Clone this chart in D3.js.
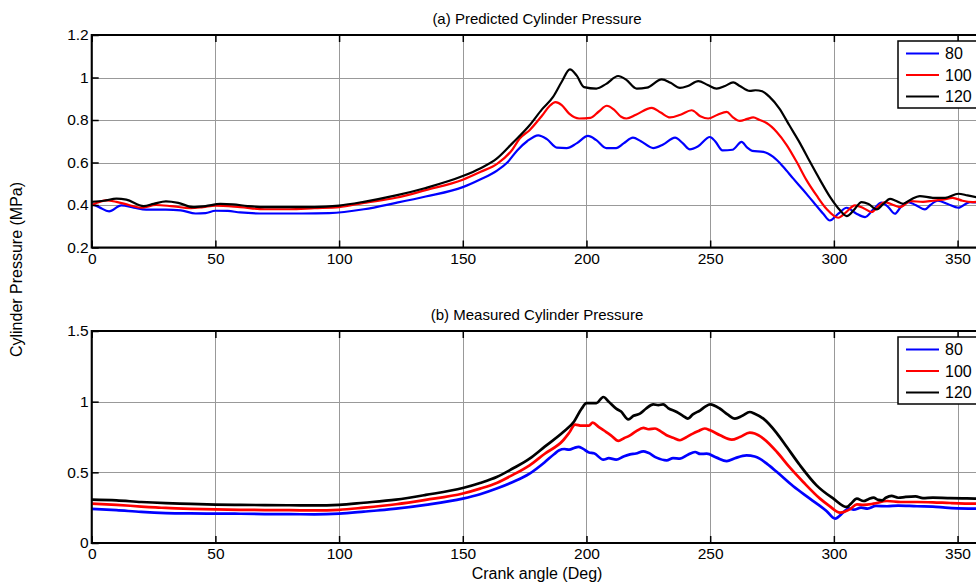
<!DOCTYPE html>
<html>
<head>
<meta charset="utf-8">
<script src="https://d3js.org/d3.v7.min.js"></script>
<style>
    body { margin: 0; background: #ffffff; }
    svg { display: block; background: #ffffff; }
    .font { font-family: "Liberation Sans", Arial, sans-serif; }
    .grid line { stroke: #999999; stroke-width: 1; shape-rendering: crispEdges; }
    .grid path { display: none; }
    .axis path { display: none; }
    .axis line { stroke: #000000; stroke-width: 1.5; }
    .axis text { font-family: "Liberation Sans", Arial, sans-serif; font-size: 15.5px; fill: #000000; }
    .frame { fill: none; stroke: #000000; stroke-width: 2; }
    .series { fill: none; stroke-linejoin: round; }
    .title { font-size: 15px; fill: #000000; }
    .label { font-size: 16px; fill: #000000; }
    .legend-box { fill: #ffffff; stroke: #000000; stroke-width: 1.5; }
    .legend-text { font-size: 16px; fill: #000000; }
</style>
</head>
<body>
<script>
// ---- data ----
const SERIES_NAMES = ["80", "100", "120"];
const SERIES_COLORS = ["#0000ff", "#ff0000", "#000000"];

// (a) predicted pressure, MPa
const PRED_ANGLE_80 = [0,3,7,12,17,22,30,36,42,46,50,55,60,70,85,96,110,123,135,150,157,164,168,172,176,180.5,184,188,192,196,200.6,204,208,212,215,218.8,222,227,231,235.8,239,241.8,245,249.9,252,255,259,262.7,265,267,271.5,275.5,279.6,283.6,287.7,291.7,295.7,298.4,301.8,305.2,309,312.6,316,319.3,322,324.7,327,330,333,336.8,339,342,346,350.3,355,360];
const PRED_80 = [0.405,0.39,0.37,0.398,0.388,0.378,0.378,0.375,0.36,0.362,0.373,0.372,0.365,0.36,0.36,0.362,0.38,0.41,0.44,0.484,0.52,0.563,0.6,0.657,0.7,0.728,0.71,0.67,0.668,0.69,0.725,0.705,0.668,0.668,0.69,0.717,0.7,0.668,0.685,0.717,0.69,0.662,0.675,0.72,0.7,0.657,0.66,0.697,0.67,0.655,0.65,0.626,0.579,0.524,0.469,0.414,0.359,0.327,0.359,0.387,0.36,0.343,0.38,0.411,0.39,0.359,0.39,0.414,0.4,0.379,0.4,0.42,0.405,0.387,0.414,0.41];

const PRED_ANGLE_100 = [0,6,10,15,20,26,32,40,45,50,60,70,80,90,100,110,123,135,150,157,164,170,173,177,182,185,187.5,190,193,197,201.6,205,208.2,211,214,216.2,220,226.4,230,233.8,238,242.5,246,249.2,253,256.7,259,262,265,267.4,270,272.8,276.9,281,285,289,293,297,301.8,305,308.5,312,315.3,318,320.7,324,326.7,331,336,340,344,348,352,356,360];
const PRED_100 = [0.4,0.422,0.415,0.4,0.387,0.4,0.395,0.385,0.39,0.397,0.39,0.38,0.38,0.385,0.39,0.41,0.434,0.47,0.519,0.555,0.595,0.66,0.713,0.752,0.82,0.865,0.884,0.87,0.83,0.807,0.81,0.84,0.867,0.85,0.815,0.807,0.825,0.857,0.835,0.812,0.825,0.846,0.818,0.807,0.825,0.838,0.815,0.796,0.805,0.812,0.8,0.786,0.744,0.681,0.602,0.516,0.445,0.382,0.34,0.367,0.398,0.385,0.367,0.395,0.414,0.4,0.39,0.418,0.415,0.42,0.425,0.434,0.42,0.414,0.418];

const PRED_ANGLE_120 = [0,5,10,14,21,25,30,35,41,46,52,57,63,70,80,90,100,110,123,135,150,157,163.7,170,177,182,186.5,190,193.3,196,199,204,208,212.8,216,220.3,224.4,230.4,234,237.8,241,245.2,249,252.6,256,259.3,262,266,268.3,271,274,278,282,286.4,290.4,294.5,298.5,302.5,305.2,308,311.2,314,317.3,320,322.7,325,328,331,334.8,340,345,350.3,354,360];
const PRED_120 = [0.415,0.42,0.43,0.425,0.395,0.405,0.417,0.41,0.39,0.395,0.405,0.403,0.395,0.39,0.39,0.39,0.397,0.415,0.445,0.48,0.536,0.572,0.618,0.69,0.775,0.85,0.909,0.98,1.038,1.01,0.955,0.948,0.97,1.007,0.99,0.948,0.952,0.991,0.975,0.951,0.96,0.983,0.965,0.948,0.96,0.977,0.96,0.937,0.94,0.935,0.909,0.854,0.775,0.689,0.602,0.516,0.437,0.375,0.348,0.375,0.414,0.405,0.379,0.405,0.429,0.42,0.406,0.425,0.442,0.434,0.434,0.453,0.445,0.43];

// (b) measured pressure, MPa
const MEAS_ANGLE_80 = [0,10,20,30,40,50,60,70,80,90,100,110,123,135,150,157,163.7,170,177,183,187,189,191,193,195.4,196.7,198.5,201,203,206.8,209,212,215,217.6,220,223,225,228.3,232.4,235,237.8,241,243.9,246,248.6,252.6,256.7,260,264.7,268,270,273,277,283.6,290.3,297,300.5,304,306,308,311,313.6,317,321.5,326,333.6,340,345,350,357,360];
const MEAS_80 = [0.241,0.232,0.22,0.212,0.209,0.208,0.207,0.205,0.204,0.203,0.208,0.222,0.243,0.27,0.314,0.345,0.385,0.43,0.491,0.57,0.63,0.656,0.665,0.66,0.675,0.68,0.668,0.64,0.635,0.59,0.6,0.59,0.612,0.627,0.633,0.649,0.638,0.604,0.585,0.6,0.597,0.625,0.644,0.63,0.632,0.604,0.58,0.6,0.62,0.612,0.597,0.56,0.502,0.401,0.314,0.227,0.173,0.22,0.245,0.236,0.25,0.243,0.262,0.26,0.265,0.26,0.258,0.25,0.245,0.243,0.242];

const MEAS_ANGLE_100 = [0,10,20,30,40,50,60,70,80,90,100,110,123,135,150,157,163.7,170,177,183,190.6,193,195.4,198,201,202.5,205,208,210,212.9,215,217.6,220,223,225,227.7,230,232.4,235,237.8,240,243,245,247.8,250,254,258.7,262,266,268,271.5,277,282,287.6,294.4,298,302.5,306.6,309.3,312,316,321.5,327,333.6,340,347,357,360];
const MEAS_100 = [0.279,0.27,0.258,0.248,0.242,0.238,0.235,0.233,0.232,0.231,0.235,0.25,0.274,0.305,0.35,0.385,0.425,0.48,0.55,0.63,0.727,0.78,0.838,0.83,0.83,0.852,0.82,0.785,0.76,0.722,0.74,0.762,0.79,0.814,0.805,0.81,0.79,0.762,0.745,0.727,0.745,0.774,0.79,0.81,0.797,0.762,0.731,0.75,0.781,0.775,0.739,0.644,0.538,0.432,0.314,0.265,0.215,0.24,0.274,0.27,0.278,0.297,0.29,0.29,0.288,0.283,0.279,0.279];

const MEAS_ANGLE_120 = [0,10,20,30,40,50,60,70,80,90,100,110,123,135,150,157,163.7,170,177,183,190.6,195,198,200,202,204,206.8,209,212,214,216.9,219,221.6,224,227,229,231,233,236.5,239,241,243,246,248,250,254,257,260,263,266,268,271.5,276.9,281,286.3,293,299.8,305.2,307,309.3,312,314,316,318,319.5,321,323.3,326,329,333,336,340,346,352,357,360];
const MEAS_120 = [0.307,0.302,0.29,0.282,0.277,0.272,0.27,0.268,0.267,0.266,0.27,0.285,0.307,0.34,0.389,0.425,0.467,0.525,0.597,0.68,0.785,0.86,0.95,0.99,0.99,0.99,1.033,1.0,0.951,0.93,0.875,0.9,0.915,0.95,0.981,0.975,0.981,0.955,0.927,0.9,0.88,0.91,0.939,0.965,0.981,0.95,0.91,0.88,0.9,0.927,0.915,0.88,0.778,0.679,0.55,0.408,0.314,0.255,0.28,0.314,0.297,0.31,0.321,0.305,0.302,0.32,0.333,0.32,0.326,0.33,0.318,0.321,0.318,0.316,0.314,0.314];

const X_TICKS = [0, 50, 100, 150, 200, 250, 300, 350];
const Y_TICKS_A = [0.2, 0.4, 0.6, 0.8, 1, 1.2];
const Y_TICKS_B = [0, 0.5, 1, 1.5];

// ---- layout ----
const SVG_WIDTH = 976;
const SVG_HEIGHT = 585;
const PLOT_LEFT = 91.7;
const PLOT_RIGHT = 982.3;
const TICK_LEN = 7;

var svg = d3.select("body").append("svg")
    .attr("width", SVG_WIDTH)
    .attr("height", SVG_HEIGHT);

var xScale = d3.scaleLinear()
    .domain([0, 360])
    .range([PLOT_LEFT, PLOT_RIGHT]);

function zip(xs, ys) {
    return xs.map(function(x, i) { return [x, ys[i]]; });
}

function drawPanel(cfg) {
    var yScale = d3.scaleLinear()
        .domain(cfg.yDomain)
        .range([cfg.bottom, cfg.top]);
    var g = svg.append("g");

    // grid
    g.append("g")
        .attr("class", "grid")
        .attr("transform", "translate(0," + cfg.bottom + ")")
        .call(d3.axisBottom(xScale).tickValues(X_TICKS)
            .tickSize(-(cfg.bottom - cfg.top)).tickFormat(""));
    g.append("g")
        .attr("class", "grid")
        .attr("transform", "translate(" + PLOT_LEFT + ",0)")
        .call(d3.axisLeft(yScale).tickValues(cfg.yTicks)
            .tickSize(-(PLOT_RIGHT - PLOT_LEFT)).tickFormat(""));

    // lines
    var line = d3.line()
        .x(function(d) { return xScale(d[0]); })
        .y(function(d) { return yScale(d[1]); })
        .curve(d3.curveMonotoneX);
    cfg.series.forEach(function(s, i) {
        g.append("path")
            .datum(s)
            .attr("class", "series")
            .attr("stroke", SERIES_COLORS[i])
            .attr("stroke-width", cfg.lineWidth)
            .attr("d", line);
    });

    // axes with inward ticks
    g.append("g")
        .attr("class", "axis")
        .attr("transform", "translate(0," + cfg.bottom + ")")
        .call(d3.axisBottom(xScale).tickValues(X_TICKS)
            .tickSizeInner(-TICK_LEN).tickSizeOuter(0).tickPadding(5)
            .tickFormat(d3.format("d")));
    g.append("g")
        .attr("class", "axis")
        .attr("transform", "translate(0," + cfg.top + ")")
        .call(d3.axisTop(xScale).tickValues(X_TICKS)
            .tickSizeInner(-TICK_LEN).tickSizeOuter(0).tickFormat(""));
    g.append("g")
        .attr("class", "axis")
        .attr("transform", "translate(" + PLOT_LEFT + ",0)")
        .call(d3.axisLeft(yScale).tickValues(cfg.yTicks)
            .tickSizeInner(-TICK_LEN).tickSizeOuter(0).tickPadding(3)
            .tickFormat(function(d) { return String(d); }));

    g.append("rect")
        .attr("class", "frame")
        .attr("x", PLOT_LEFT)
        .attr("y", cfg.top)
        .attr("width", PLOT_RIGHT - PLOT_LEFT)
        .attr("height", cfg.bottom - cfg.top);

    g.append("text")
        .attr("class", "font title")
        .attr("x", (PLOT_LEFT + PLOT_RIGHT) / 2)
        .attr("y", cfg.top - 11)
        .attr("text-anchor", "middle")
        .text(cfg.title);

    // legend
    var lg = g.append("g")
        .attr("transform", "translate(898," + (cfg.top + 6) + ")");
    lg.append("rect")
        .attr("class", "legend-box")
        .attr("width", 84)
        .attr("height", 67);
    SERIES_NAMES.forEach(function(name, i) {
        var cy = 12.5 + i * 21.5;
        lg.append("line")
            .attr("x1", 8).attr("x2", 41)
            .attr("y1", cy).attr("y2", cy)
            .attr("stroke", SERIES_COLORS[i])
            .attr("stroke-width", 2.2);
        lg.append("text")
            .attr("class", "font legend-text")
            .attr("x", 47)
            .attr("y", cy)
            .attr("dy", "0.36em")
            .text(name);
    });
}

drawPanel({
    top: 35, bottom: 247.5,
    yDomain: [0.2, 1.2], yTicks: Y_TICKS_A,
    title: "(a) Predicted Cylinder Pressure",
    lineWidth: 2.2,
    series: [zip(PRED_ANGLE_80, PRED_80), zip(PRED_ANGLE_100, PRED_100), zip(PRED_ANGLE_120, PRED_120)]
});

drawPanel({
    top: 331, bottom: 543,
    yDomain: [0, 1.5], yTicks: Y_TICKS_B,
    title: "(b) Measured Cylinder Pressure",
    lineWidth: 2.7,
    series: [zip(MEAS_ANGLE_80, MEAS_80), zip(MEAS_ANGLE_100, MEAS_100), zip(MEAS_ANGLE_120, MEAS_120)]
});

svg.append("text")
    .attr("class", "font label")
    .attr("x", (PLOT_LEFT + PLOT_RIGHT) / 2)
    .attr("y", 579)
    .attr("text-anchor", "middle")
    .text("Crank angle (Deg)");

svg.append("text")
    .attr("class", "font label")
    .attr("transform", "translate(22,269.5) rotate(-90)")
    .attr("text-anchor", "middle")
    .text("Cylinder Pressure (MPa)");
</script>
</body>
</html>
